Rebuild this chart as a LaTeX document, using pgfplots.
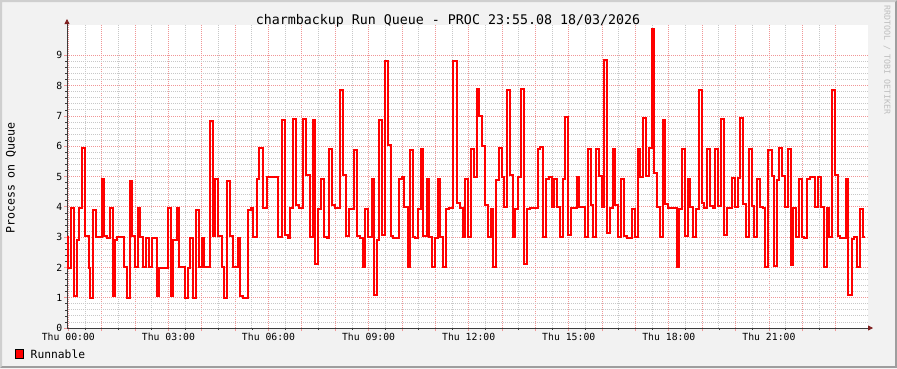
\documentclass[border=0pt]{standalone}
\usepackage{pgfplots}
\pgfplotsset{compat=1.18}
\usepackage{pgfplotstable}
\usepackage{fontspec}
\setmainfont{DejaVu Sans Mono}
\usetikzlibrary{arrows.meta}
\definecolor{bggray}{RGB}{242,242,242}
\definecolor{shadea}{RGB}{207,207,207}
\definecolor{shadeb}{RGB}{158,158,158}
\definecolor{mgrid}{RGB}{240,150,150}
\definecolor{ngrid}{RGB}{200,200,200}
\definecolor{axiscol}{RGB}{60,60,60}
\definecolor{arrowcol}{RGB}{127,31,31}
\definecolor{wmark}{RGB}{190,190,190}
\pgfplotstableread{
h v
-0.040 3.00
-0.024 1.97
0.081 3.95
0.171 1.05
0.252 2.90
0.321 3.95
0.411 5.93
0.510 3.03
0.612 1.99
0.659 1.00
0.749 3.90
0.830 3.00
1.019 4.93
1.079 3.03
1.151 2.97
1.250 3.95
1.331 1.05
1.400 2.90
1.469 3.00
1.670 2.00
1.769 1.00
1.841 4.86
1.909 3.03
2.008 2.00
2.080 3.95
2.149 3.00
2.230 2.00
2.329 2.97
2.428 2.00
2.500 2.97
2.650 1.05
2.728 1.97
2.989 3.95
3.079 1.05
3.147 2.90
3.249 3.95
3.318 2.02
3.498 1.00
3.579 1.97
3.648 2.96
3.747 1.00
3.828 3.90
3.918 2.02
3.999 2.96
4.068 2.00
4.248 6.84
4.329 3.03
4.397 4.93
4.496 3.03
4.598 2.00
4.667 1.00
4.766 4.86
4.847 3.03
4.928 2.00
5.078 2.96
5.156 1.05
5.228 0.98
5.396 3.90
5.477 3.95
5.546 3.00
5.647 4.93
5.725 5.95
5.845 3.97
5.965 4.99
6.295 3.00
6.415 6.88
6.496 3.07
6.595 2.96
6.646 3.95
6.727 6.90
6.826 4.05
6.924 3.97
7.044 6.90
7.125 5.04
7.245 3.00
7.326 6.88
7.395 2.10
7.494 3.92
7.575 4.93
7.674 3.00
7.746 2.96
7.815 5.91
7.896 4.05
7.995 3.97
8.145 7.87
8.225 5.04
8.324 3.03
8.423 3.92
8.573 5.89
8.645 3.03
8.744 2.96
8.825 2.00
8.894 3.92
8.993 3.00
9.089 4.91
9.164 1.09
9.245 2.90
9.314 6.88
9.413 3.07
9.493 8.81
9.592 6.03
9.664 3.03
9.742 2.98
9.922 4.91
9.994 4.99
10.072 4.00
10.174 2.02
10.243 5.87
10.324 3.00
10.393 2.96
10.492 3.92
10.573 5.91
10.641 3.03
10.743 4.91
10.812 3.00
10.911 2.00
10.992 2.96
11.091 4.91
11.142 3.00
11.223 2.00
11.322 3.92
11.421 3.97
11.523 8.81
11.643 4.11
11.742 3.97
11.823 3.00
11.901 4.91
11.981 3.00
12.071 5.91
12.161 4.99
12.242 7.90
12.311 6.99
12.410 6.00
12.491 4.05
12.590 3.00
12.662 3.92
12.740 2.02
12.821 4.88
12.911 5.95
12.992 4.99
13.070 4.00
13.142 7.85
13.241 5.04
13.322 3.00
13.390 3.92
13.489 4.97
13.570 7.90
13.660 2.10
13.759 3.92
13.840 3.97
14.071 5.92
14.140 5.98
14.239 3.00
14.320 4.91
14.418 4.99
14.491 4.00
14.568 4.93
14.640 4.00
14.739 3.00
14.820 4.91
14.898 6.95
14.988 3.07
15.069 3.95
15.240 4.97
15.309 4.00
15.489 3.00
15.588 5.92
15.660 4.05
15.720 3.00
15.819 5.92
15.908 5.01
15.989 4.00
16.067 8.86
16.139 3.15
16.238 3.95
16.319 5.92
16.388 4.05
16.487 3.00
16.568 4.91
16.658 3.03
16.739 2.96
16.889 3.92
16.988 3.00
17.068 5.92
17.137 5.00
17.218 6.93
17.317 5.01
17.416 5.95
17.488 9.88
17.566 5.12
17.638 4.00
17.737 3.00
17.818 6.88
17.896 4.08
17.986 3.97
18.237 2.02
18.306 3.92
18.387 5.91
18.486 3.03
18.567 4.91
18.636 4.00
18.717 3.00
18.807 3.92
18.906 7.85
18.987 4.11
19.065 3.95
19.155 5.91
19.236 4.03
19.317 3.97
19.386 5.91
19.484 4.03
19.565 6.90
19.655 3.07
19.754 3.95
19.886 4.96
19.985 3.98
20.066 4.96
20.135 6.93
20.234 4.08
20.315 3.00
20.414 5.91
20.486 4.03
20.564 3.00
20.636 4.92
20.735 4.00
20.815 3.95
20.893 2.02
20.983 5.89
21.085 5.01
21.154 2.04
21.235 4.90
21.304 5.95
21.403 5.01
21.484 4.00
21.565 5.92
21.655 2.08
21.733 3.95
21.814 3.00
21.913 4.91
21.985 3.00
22.063 2.96
22.135 4.91
22.234 4.99
22.384 4.00
22.482 4.97
22.563 4.00
22.653 2.02
22.734 3.95
22.812 3.00
22.884 7.85
22.983 5.04
23.082 3.03
23.133 2.98
23.313 4.91
23.382 1.09
23.484 2.93
23.562 2.99
23.634 2.00
23.733 3.92
23.814 3.00
23.892 3.00
}\runq
\begin{document}
\begin{tikzpicture}[x=1pt,y=1pt]
\fill[bggray] (0,0) rectangle (897,368);
\fill[shadea] (0,368) -- (897,368) -- (895,366) -- (2,366) -- (2,2) -- (0,0) -- cycle;
\fill[shadeb] (897,368) -- (897,0) -- (0,0) -- (2,2) -- (895,2) -- (895,366) -- cycle;
\begin{axis}[
  at={(67pt,40pt)}, anchor=south west,
  scale only axis, width=801pt, height=303pt,
  xmin=-0.04, xmax=23.97, ymin=0, ymax=10,
  axis lines*=left,
  axis background/.style={fill=white},
  x axis line style={draw=axiscol, line width=0.8pt, shorten >=-5pt, -{Triangle[length=5pt,width=5pt,color=arrowcol]}},
  y axis line style={draw=axiscol, line width=0.8pt, shorten >=-6pt, -{Triangle[length=5pt,width=5pt,color=arrowcol]}},
  xtick={0,1,...,23},
  xticklabels={Thu 00:00,,,Thu 03:00,,,Thu 06:00,,,Thu 09:00,,,Thu 12:00,,,Thu 15:00,,,Thu 18:00,,,Thu 21:00,,},
  minor x tick num=1,
  ytick={0,1,...,9},
  minor y tick num=4,
  grid=both,
  major grid style={mgrid, dash pattern=on 1pt off 1pt, line width=0.8pt},
  minor grid style={ngrid, dash pattern=on 1pt off 1pt, line width=0.8pt},
  tick align=outside,
  major tick length=3pt, minor tick length=2pt,
  major tick style={mgrid, line width=0.8pt},
  minor tick style={axiscol, line width=0.6pt},
  /pgf/number format/assume math mode=true,
  ticklabel style={font=\fontsize{9.8}{10}\selectfont, text=black},
  xticklabel style={inner sep=1.5pt, yshift=-0.5pt},
  yticklabel style={inner sep=1.5pt},
  clip=false,
]
\addplot[const plot, draw=red, line width=2pt, line join=miter] table[x=h,y=v]{\runq};
\end{axis}
\node[font=\fontsize{13.3}{14}\selectfont, text=black] at (448,347.5) {charmbackup Run Queue - PROC 23:55.08 18/03/2026};
\node[rotate=90, font=\fontsize{11.6}{12}\selectfont, text=black] at (11,190) {Process on Queue};
\filldraw[fill=red, draw=black, line width=0.8pt] (15.5,9.5) rectangle (23.5,18.5);
\node[anchor=west, font=\fontsize{11.3}{12}\selectfont, text=black, inner sep=0pt] at (30.5,14) {Runnable};
\node[rotate=-90, text=wmark, font=\fontsize{8.3}{9}\selectfont] at (887,308) {RRDTOOL / TOBI OETIKER};
\pgfresetboundingbox
\useasboundingbox (0,0) rectangle (897,368);
\end{tikzpicture}
\end{document}
